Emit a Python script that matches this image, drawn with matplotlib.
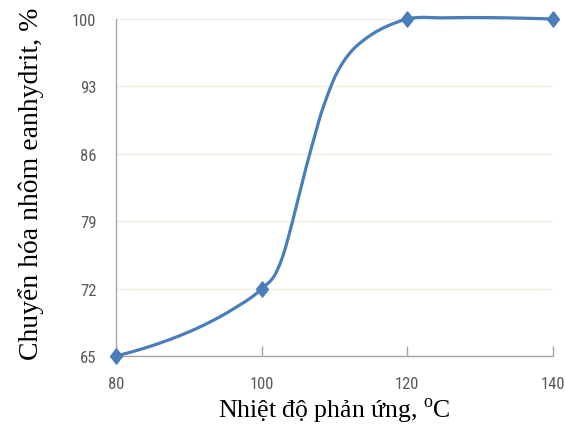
import numpy as np
import matplotlib
matplotlib.use("Agg")
import matplotlib.pyplot as plt
from matplotlib.path import Path

# measured points (markers)
temp = [80, 100, 120, 140]
conv = [65, 72, 100, 100]

# smoothed curve
curve_temp = [80, 84, 88, 92, 96, 100, 102, 103, 104, 105, 106, 107, 108, 109,
              110, 111, 112.5, 114, 116, 118, 120, 125, 130, 135, 140]
curve_conv = [65.0, 65.85, 66.9, 68.2, 69.85, 72.0, 73.7, 75.6, 78.3, 81.3, 84.3,
              87.1, 89.8, 92.0, 93.9, 95.3, 96.8, 97.8, 98.8, 99.5, 100.0,
              100.12, 100.15, 100.1, 100.0]

x_ticks = [80, 100, 120, 140]
y_ticks = [65, 72, 79, 86, 93, 100]

blue = "#4a7ebb"
tick_font = ["Liberation Sans Narrow", "Roboto Condensed", "DejaVu Sans"]

plt.rcParams["mathtext.fontset"] = "custom"
plt.rcParams["mathtext.rm"] = "Liberation Serif"


def smooth_line(xs, ys, n=30):
    # cubic Hermite through the traced points, three-point slopes
    x = np.asarray(xs, float)
    y = np.asarray(ys, float)
    h = np.diff(x)
    d = np.diff(y) / h
    m = np.empty_like(y)
    m[0], m[-1] = d[0], d[-1]
    m[1:-1] = (h[:-1] * d[1:] + h[1:] * d[:-1]) / (h[:-1] + h[1:])
    px, py = [], []
    for i in range(len(h)):
        t = np.linspace(0, 1, n, endpoint=False)
        h00 = 2 * t**3 - 3 * t**2 + 1
        h10 = t**3 - 2 * t**2 + t
        h01 = -2 * t**3 + 3 * t**2
        h11 = t**3 - t**2
        px.append(x[i] + t * h[i])
        py.append(h00 * y[i] + h10 * h[i] * m[i] + h01 * y[i + 1] + h11 * h[i] * m[i + 1])
    px.append([x[-1]])
    py.append([y[-1]])
    return np.concatenate(px), np.concatenate(py)


fig = plt.figure(figsize=(5.65, 4.27), dpi=100)
ax = fig.add_axes([0.2053, 0.1636, 0.7735, 0.7896])

sx, sy = smooth_line(curve_temp, curve_conv)
ax.plot(sx, sy, color=blue, lw=2.3, clip_on=False, zorder=3,
        solid_capstyle="round", solid_joinstyle="round")

diamond = Path([(0, 1), (0.78, 0), (0, -1), (-0.78, 0), (0, 1)],
               [Path.MOVETO, Path.LINETO, Path.LINETO, Path.LINETO, Path.CLOSEPOLY])
ax.plot(temp, conv, linestyle="none", marker=diamond, markersize=11,
        color=blue, markeredgecolor=blue, clip_on=False, zorder=4)

ax.set_xlim(80, 140)
ax.set_ylim(65, 100)
ax.set_xticks(x_ticks)
ax.set_yticks(y_ticks)
ax.set_xticklabels([str(v) for v in x_ticks], family=tick_font, fontsize=12, color="#595959")
ax.set_yticklabels([str(v) for v in y_ticks], family=tick_font, fontsize=12, color="#595959")

ax.tick_params(axis="x", direction="in", length=7, width=1, color="#a6a6a6", pad=14)
ax.tick_params(axis="y", length=0, pad=14)

ax.grid(axis="y", color="#efeee0", lw=1)
ax.set_axisbelow(True)
for side in ["top", "right"]:
    ax.spines[side].set_visible(False)
for side in ["left", "bottom"]:
    ax.spines[side].set_color("#a6a6a6")
    ax.spines[side].set_linewidth(1)

ax.set_ylabel("Chuyển hóa nhôm eanhydrit, %", family="Liberation Serif",
              fontsize=20, color="black")
ax.yaxis.set_label_coords(-0.165, 0.515)
ax.set_xlabel("Nhiệt độ phản ứng, $^{\\mathrm{o}}$C", family="Liberation Serif",
              fontsize=18.5, color="black", labelpad=4)

fig.savefig("out.png", dpi=100)
